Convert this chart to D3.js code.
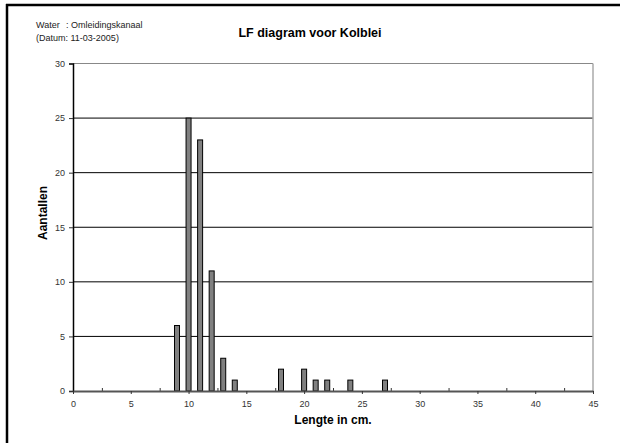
<!DOCTYPE html>
<html>
<head>
<meta charset="utf-8">
<script src="https://cdn.jsdelivr.net/npm/d3@7"></script>
<style>
  body { margin: 0; background: #fff; }
  text { font-family: Arial, "Liberation Sans", sans-serif; }
</style>
</head>
<body>
<script>
// lengths (cm) and counts
var lengths = [9, 10, 11, 12, 13, 14, 18, 20, 21, 22, 24, 27];
var counts  = [6, 25, 23, 11, 3, 1, 2, 2, 1, 1, 1, 1];
var xTicks = [0, 5, 10, 15, 20, 25, 30, 35, 40, 45];
var xMinorTicks = [2.5, 7.5, 12.5, 17.5, 22.5, 27.5, 32.5, 37.5, 42.5];
var yTicks = [0, 5, 10, 15, 20, 25, 30];

var _main = function () {
  var svg = d3.select("body").append("svg")
    .attr("width", 620)
    .attr("height", 443);

  // frame (only left and top visible)
  svg.append("line").attr("x1", 7).attr("x2", 7).attr("y1", 4).attr("y2", 443)
    .attr("stroke", "#000").attr("stroke-width", 2.5);
  svg.append("line").attr("x1", 6).attr("x2", 620).attr("y1", 5).attr("y2", 5)
    .attr("stroke", "#000").attr("stroke-width", 2.5);

  var left = 73, right = 593, top = 63.5, bottom = 391;

  var x = d3.scaleLinear().domain([0, 45]).range([left, right]);
  var y = d3.scaleLinear().domain([0, 30]).range([bottom, top]);

  // header texts
  svg.append("text").attr("x", 36).attr("y", 28)
    .attr("font-size", 9).attr("fill", "#222")
    .text("Water");
  svg.append("text").attr("x", 66).attr("y", 28)
    .attr("font-size", 9).attr("fill", "#222")
    .text(": Omleidingskanaal");
  svg.append("text").attr("x", 36).attr("y", 41)
    .attr("font-size", 9).attr("fill", "#222")
    .text("(Datum: 11-03-2005)");

  svg.append("text").attr("x", 310).attr("y", 37)
    .attr("text-anchor", "middle")
    .attr("font-size", 12.5).attr("font-weight", "bold")
    .text("LF diagram voor Kolblei");

  // gridlines
  svg.append("g").selectAll("line")
    .data(yTicks.filter(function (d) { return d > 0 && d < 30; }))
    .enter().append("line")
    .attr("x1", left).attr("x2", right)
    .attr("y1", function (d) { return y(d); })
    .attr("y2", function (d) { return y(d); })
    .attr("stroke", "#000").attr("stroke-width", 1);

  // plot border top / right
  svg.append("line").attr("x1", left).attr("x2", right).attr("y1", top).attr("y2", top)
    .attr("stroke", "#888").attr("stroke-width", 1);
  svg.append("line").attr("x1", right).attr("x2", right).attr("y1", top).attr("y2", bottom)
    .attr("stroke", "#aaa").attr("stroke-width", 1.5);

  // bars
  var barW = 5;
  svg.append("g").selectAll("rect")
    .data(lengths)
    .enter().append("rect")
    .attr("x", function (d) { return x(d) - barW / 2; })
    .attr("y", function (d, i) { return y(counts[i]); })
    .attr("width", barW)
    .attr("height", function (d, i) { return bottom - y(counts[i]); })
    .attr("fill", "#808080")
    .attr("stroke", "#000")
    .attr("stroke-width", 1);

  // y axis
  var yAxis = svg.append("g")
    .attr("transform", "translate(" + left + ",0)")
    .call(d3.axisLeft(y).tickValues(yTicks).tickSize(4).tickPadding(4).tickFormat(d3.format("d")));
  yAxis.select(".domain").attr("stroke", "#000").attr("stroke-width", 1.5);
  yAxis.selectAll(".tick line").attr("stroke", "#333");
  yAxis.selectAll("text").attr("font-size", 9).attr("fill", "#333")
    .attr("font-family", "Arial, 'Liberation Sans', sans-serif");

  // x axis, minor ticks pointing up
  var xMinor = svg.append("g")
    .attr("transform", "translate(0," + bottom + ")")
    .call(d3.axisTop(x).tickValues(xMinorTicks).tickSize(3).tickFormat(""));
  xMinor.select(".domain").remove();
  xMinor.selectAll(".tick line").attr("stroke", "#333");

  var xAxis = svg.append("g")
    .attr("transform", "translate(0," + bottom + ")")
    .call(d3.axisBottom(x).tickValues(xTicks).tickSize(3).tickSizeOuter(0).tickPadding(7).tickFormat(d3.format("d")));
  xAxis.select(".domain").attr("stroke", "#555").attr("stroke-width", 2);
  xAxis.selectAll(".tick line").attr("stroke", "#333");
  xAxis.selectAll("text").attr("font-size", 9).attr("fill", "#333")
    .attr("font-family", "Arial, 'Liberation Sans', sans-serif");

  // axis titles
  svg.append("text")
    .attr("x", 333).attr("y", 424)
    .attr("text-anchor", "middle")
    .attr("font-size", 12).attr("font-weight", "bold")
    .text("Lengte in cm.");

  svg.append("text")
    .attr("transform", "translate(47,213) rotate(-90)")
    .attr("text-anchor", "middle")
    .attr("font-size", 12).attr("font-weight", "bold")
    .text("Aantallen");
};

document.addEventListener("DOMContentLoaded", function () {
  _main();
});
</script>
</body>
</html>
